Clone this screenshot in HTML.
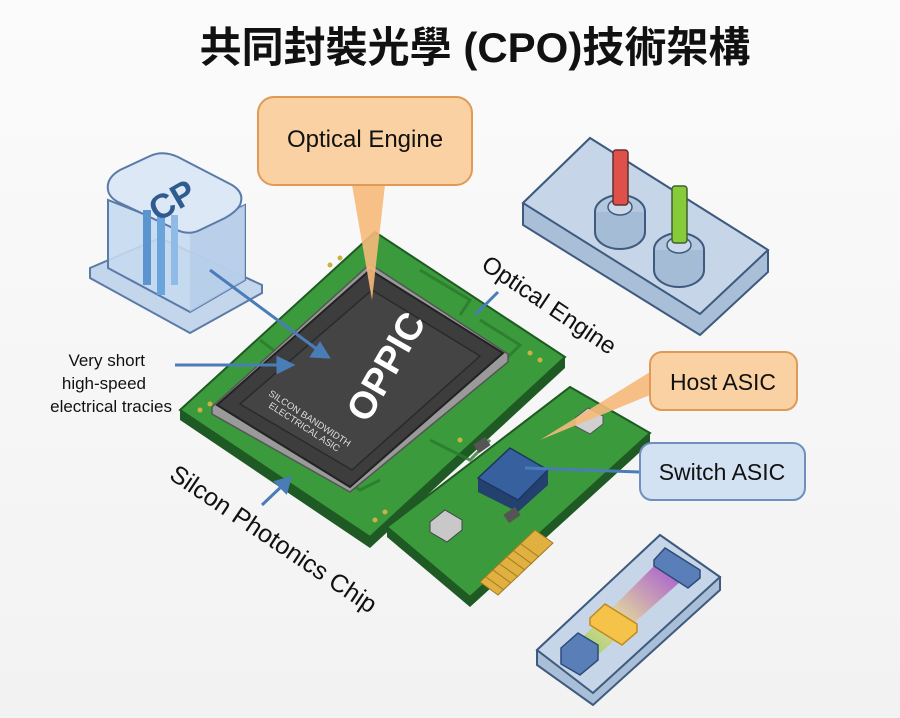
<!DOCTYPE html>
<html><head><meta charset="utf-8"><style>
html,body{margin:0;padding:0;background:#f7f7f7;}
svg{display:block}
text{font-family:"Liberation Sans","Noto Sans CJK TC",sans-serif;}
</style></head><body>
<svg width="900" height="718" viewBox="0 0 900 718" xmlns="http://www.w3.org/2000/svg">
<defs>
<linearGradient id="bg" x1="0" y1="0" x2="0" y2="1"><stop offset="0" stop-color="#fbfbfb"/><stop offset="1" stop-color="#f2f2f2"/></linearGradient>
<linearGradient id="spec" x1="0" y1="1" x2="1" y2="0"><stop offset="0" stop-color="#8fd04a"/><stop offset="0.4" stop-color="#e8d890"/><stop offset="1" stop-color="#a040d0"/></linearGradient>
</defs>
<rect width="900" height="718" fill="url(#bg)"/>
<text x="475" y="62" font-size="42" font-weight="bold" text-anchor="middle" fill="#111">共同封裝光學 (CPO)技術架構</text>

<!-- left cube -->
<path d="M90,268 L160,238 L262,285 L262,293 L190,333 L90,278 Z" fill="#c4d6ec" stroke="#5a7aa8" stroke-width="2"/>
<path d="M108,200 L108,268 L190,312 L245,280 L245,205 L190,232 Z" fill="#c5d9f0" fill-opacity="0.9" stroke="#5a7aa8" stroke-width="2"/>
<path d="M190,232 L190,312 L245,280 L245,205 Z" fill="#b4cce8" fill-opacity="0.8"/>
<path d="M108,190 Q106,178 120,170 L150,156 Q163,150 178,157 L232,185 Q245,193 240,205 Q236,212 225,218 L200,230 Q188,236 175,229 L118,202 Q109,197 108,190 Z" fill="#dce8f6" stroke="#5a7aa8" stroke-width="2"/>
<rect x="143" y="210" width="8" height="75" fill="#5b95d0"/>
<rect x="157" y="215" width="8" height="80" fill="#6aa4dc"/>
<rect x="171" y="215" width="7" height="70" fill="#8fbbe6"/>
<text x="172" y="212" font-size="34" font-weight="bold" fill="#2f5b8e" text-anchor="middle" transform="rotate(-30 172 200)">CP</text>

<!-- top right connector slab -->
<path d="M523,203 L590,138 L768,250 L768,272 L700,335 L523,225 Z" fill="#a9bfd8" stroke="#3e5a7e" stroke-width="2"/>
<path d="M523,203 L590,138 L768,250 L700,314 Z" fill="#c6d6e8" stroke="#3e5a7e" stroke-width="2"/>
<ellipse cx="620" cy="212" rx="25" ry="17" fill="#b3c8de" stroke="#3e5a7e" stroke-width="2"/>
<path d="M595,212 L595,232 A25,17 0 0 0 645,232 L645,212" fill="#a5bcd6" stroke="#3e5a7e" stroke-width="2"/>
<ellipse cx="620" cy="207" rx="12" ry="8" fill="#cbd9ea" stroke="#3e5a7e" stroke-width="1.5"/>
<rect x="613" y="150" width="15" height="55" rx="3" fill="#e0504a" stroke="#603030" stroke-width="1.5"/>
<ellipse cx="679" cy="250" rx="25" ry="17" fill="#b3c8de" stroke="#3e5a7e" stroke-width="2"/>
<path d="M654,250 L654,270 A25,17 0 0 0 704,270 L704,250" fill="#a5bcd6" stroke="#3e5a7e" stroke-width="2"/>
<ellipse cx="679" cy="245" rx="12" ry="8" fill="#cbd9ea" stroke="#3e5a7e" stroke-width="1.5"/>
<rect x="672" y="186" width="15" height="57" rx="3" fill="#86cc3a" stroke="#406030" stroke-width="1.5"/>

<!-- main PCB -->
<path d="M180,410 L375,232 L565,357 L565,368 L370,548 L180,420 Z" fill="#1f5a24"/>
<path d="M180,410 L375,232 L565,357 L370,537 Z" fill="#3a9a3c" stroke="#1e5a22" stroke-width="2"/>
<g stroke="#2a7a2c" stroke-width="3" fill="none" opacity="0.8">
<path d="M260,340 L300,370 L290,380"/><path d="M420,270 L470,300 L460,315"/><path d="M480,320 L520,345 L500,365"/><path d="M330,470 L360,490 L380,480"/><path d="M430,440 L470,460 L490,440"/><path d="M220,400 L250,420"/>
</g>
<g fill="#c9b240"><circle cx="200" cy="410" r="2.5"/><circle cx="210" cy="404" r="2.5"/><circle cx="330" cy="265" r="2.5"/><circle cx="340" cy="258" r="2.5"/><circle cx="540" cy="360" r="2.5"/><circle cx="530" cy="353" r="2.5"/><circle cx="375" cy="520" r="2.5"/><circle cx="385" cy="512" r="2.5"/><circle cx="460" cy="440" r="2.5"/></g>
<!-- chip -->
<path d="M212,407 L370,264 L508,354 L508,362 L350,492 L212,414 Z" fill="#9a9a9a" stroke="#555" stroke-width="1.5"/>
<path d="M217,405 L370,270 L503,353 L350,487 Z" fill="#3d3d3d" stroke="#222" stroke-width="2"/>
<path d="M240,404 L372,290 L480,356 L352,470 Z" fill="#444" stroke="#2a2a2a" stroke-width="1.5"/>
<text x="385" y="380" font-size="38" font-weight="bold" fill="#fff" text-anchor="middle" transform="rotate(-60 385 366)">OPPIC</text>
<text x="268" y="395" font-size="9.5" fill="#ddd" transform="rotate(33 268 395)">SILCON BANDWIDTH</text>
<text x="268" y="407" font-size="9.5" fill="#ddd" transform="rotate(33 268 407)">ELECTRICAL ASIC</text>

<!-- second board -->
<path d="M387,527 L570,387 L650,433 L650,443 L470,607 L387,537 Z" fill="#1f5a24"/>
<path d="M387,527 L570,387 L650,433 L470,597 Z" fill="#3a9a3c" stroke="#1e5a22" stroke-width="2"/>
<path d="M480,582 L535,530 L553,543 L498,595 Z" fill="#e0b040" stroke="#a07a20" stroke-width="1"/>
<g stroke="#a07a20" stroke-width="1"><line x1="486" y1="577" x2="504" y2="590"/><line x1="493" y1="570" x2="511" y2="583"/><line x1="500" y1="564" x2="518" y2="577"/><line x1="507" y1="557" x2="525" y2="570"/><line x1="514" y1="551" x2="532" y2="564"/><line x1="521" y1="544" x2="539" y2="557"/></g>
<path d="M478,478 L510,448 L548,470 L548,485 L518,512 L478,492 Z" fill="#23406e"/>
<path d="M478,478 L510,448 L548,470 L518,500 Z" fill="#36609e" stroke="#1e3560" stroke-width="1.5"/>
<path d="M430,522 L445,510 L462,520 L462,530 L447,542 L430,532 Z" fill="#c8c8c8" stroke="#444"/>
<path d="M575,418 L588,408 L603,416 L603,424 L590,434 L575,426 Z" fill="#d0d0d0" stroke="#555"/>
<rect x="505" y="510" width="14" height="10" fill="#555" transform="rotate(-35 512 515)"/>
<rect x="475" y="440" width="14" height="10" fill="#555" transform="rotate(-35 482 445)"/>

<!-- bottom right slab -->
<path d="M537,650 L660,535 L720,577 L720,590 L593,705 L537,665 Z" fill="#a9bfd8" stroke="#3e5a7e" stroke-width="2"/>
<path d="M537,650 L660,535 L720,577 L593,693 Z" fill="#c6d6e8" stroke="#3e5a7e" stroke-width="2"/>
<path d="M575,645 L655,565 L680,582 L598,655 Z" fill="url(#spec)" opacity="0.85"/>
<path d="M654,560 L665,548 L700,570 L700,578 L688,588 L654,566 Z" fill="#5a7fb8" stroke="#2e4a78" stroke-width="1.5"/>
<path d="M590,618 L605,604 L637,624 L637,632 L622,645 L590,625 Z" fill="#f5c24a" stroke="#c08a20" stroke-width="1.5"/>
<path d="M561,648 L578,633 L598,645 L598,660 L580,675 L561,664 Z" fill="#5a7fb8" stroke="#2e4a78" stroke-width="1.5"/>

<!-- arrows -->
<g stroke="#4a7db8" stroke-width="3" fill="#4a7db8">
<line x1="210" y1="270" x2="318" y2="350"/><path d="M328,357 L312,356 L320,344 Z"/>
<line x1="175" y1="365" x2="280" y2="365"/><path d="M292,365 L278,358 L278,372 Z"/>
<line x1="262" y1="505" x2="282" y2="486"/><path d="M290,478 L286,492 L276,482 Z"/>
<line x1="498" y1="292" x2="475" y2="315"/>
<line x1="640" y1="472" x2="525" y2="468"/>
</g>
<!-- orange callout tails -->
<path d="M352,185 L385,185 L372,300 Z" fill="#f5b97a" opacity="0.9"/>
<path d="M650,372 L650,395 L540,440 Z" fill="#f5b97a" opacity="0.9"/>

<!-- callouts -->
<rect x="258" y="97" width="214" height="88" rx="16" fill="#fad1a2" stroke="#e09a55" stroke-width="2"/>
<text x="365" y="147" font-size="24" text-anchor="middle" fill="#111">Optical Engine</text>
<rect x="650" y="352" width="147" height="58" rx="12" fill="#fad1a2" stroke="#e09a55" stroke-width="2"/>
<text x="723" y="390" font-size="23" text-anchor="middle" fill="#111">Host ASIC</text>
<rect x="640" y="443" width="165" height="57" rx="12" fill="#d3e2f3" stroke="#6f8fbe" stroke-width="2"/>
<text x="722" y="480" font-size="23" text-anchor="middle" fill="#111">Switch ASIC</text>

<!-- labels -->
<g font-size="17" fill="#111" text-anchor="end">
<text x="145" y="366">Very short</text>
<text x="146" y="389">high-speed</text>
<text x="172" y="412">electrical tracies</text>
</g>
<text x="168" y="478" font-size="25" fill="#111" transform="rotate(34 168 478)">Silcon Photonics Chip</text>
<text x="480" y="268" font-size="24" fill="#111" transform="rotate(34 480 268)">Optical Engine</text>
</svg>
</body></html>
